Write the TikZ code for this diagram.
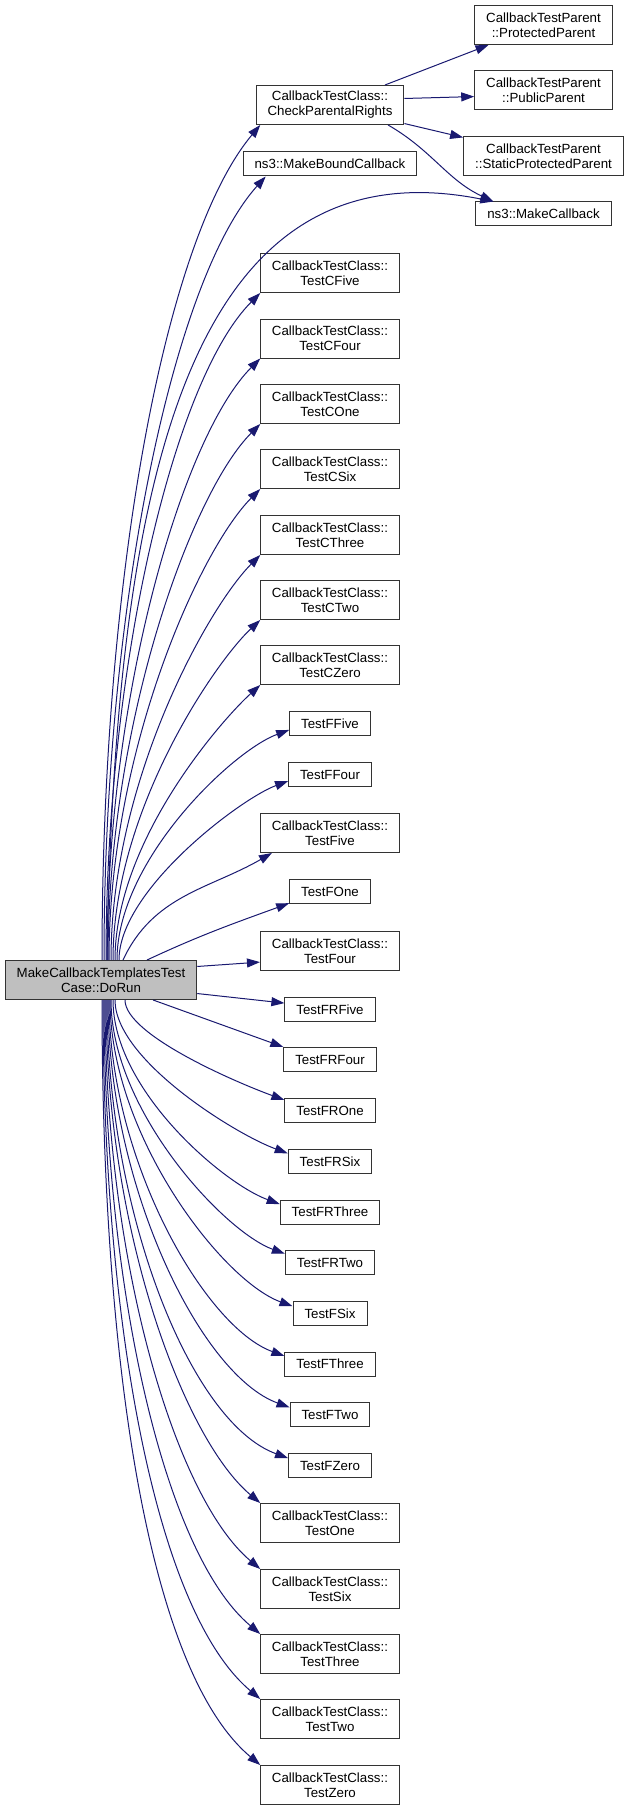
\documentclass[tikz,border=0pt]{standalone}
\usepackage{fontspec}
\setmainfont{Liberation Sans}
\usetikzlibrary{arrows.meta}
\definecolor{callblue}{RGB}{25,25,112}
\definecolor{maingray}{RGB}{191,191,191}

\begin{document}
\begin{tikzpicture}[x=1pt,y=1pt,
  fn/.style={draw=black!80,line width=1pt,fill=white,inner xsep=11.5pt,inner ysep=2pt,
    minimum height=24pt,align=center,font=\fontsize{13.3}{15}\selectfont},
  fntwo/.style={fn,minimum height=39pt},
  call/.style={callblue,line width=1pt,-{Triangle[length=13pt,width=9pt]}}]
\useasboundingbox (0,0) rectangle (629,-1811);
% caller
\node[fntwo,fill=maingray] (main) at (101,-980) {MakeCallbackTemplatesTest\\Case::DoRun};
% callees
\node[fntwo] (cpr) at (330,-105) {CallbackTestClass::\\CheckParentalRights};
\node[fn] (mbc) at (330,-164) {ns3::MakeBoundCallback};
\node[fntwo] (pp) at (543.5,-25) {CallbackTestParent\\::ProtectedParent};
\node[fntwo] (pubp) at (543.5,-90.5) {CallbackTestParent\\::PublicParent};
\node[fntwo] (spp) at (543.5,-156) {CallbackTestParent\\::StaticProtectedParent};
\node[fn] (mc) at (543.5,-214) {ns3::MakeCallback};
\foreach \n/\y/\s in {cfive/273/CFive,cfour/338.5/CFour,cone/404/COne,csix/469/CSix,cthree/535/CThree,
  ctwo/600/CTwo,czero/665/CZero,five/833/Five,four/951/Four,one/1523/One,six/1589/Six,
  three/1654/Three,two/1719/Two,zero/1785/Zero}
  \node[fntwo] (\n) at (330,-\y) {CallbackTestClass::\\Test\s};
\foreach \n/\y/\s in {ffive/723.5/FFive,ffour/774.5/FFour,fone/891.5/FOne,frfive/1009.5/FRFive,
  frfour/1059.5/FRFour,frone/1110.5/FROne,frsix/1161.5/FRSix,frthree/1212/FRThree,frtwo/1262.5/FRTwo,
  fsix/1313.5/FSix,fthree/1364/FThree,ftwo/1414.5/FTwo,fzero/1465.5/FZero}
  \node[fn] (\n) at (330,-\y) {Test\s};
% calls of CheckParentalRights
\draw[call] (cpr.20) -- (pp.200);
\draw[call] (cpr.5) -- (pubp.185);
\draw[call] (cpr.-14) -- (spp.167);
\draw[call] (cpr.-19) to[out=-30,in=155] (mc.166);
% calls of DoRun, upwards
\draw[call] ([xshift=6]main.north) .. controls +(8,460) and +(-312,62) .. (mc.166);
\foreach \n/\s/\l/\a/\m/\e in {cpr/1/380/230/150/196,mbc/3/350/228/140/191,cfive/5/300/225/120/196,
  cfour/6/270/225/108/196,cone/7/240/225/96/196,csix/8/210/225/85/196,cthree/10/180/225/73/196,
  ctwo/12/150/223/61/196,czero/14/120/222/50/196,ffive/16/100/200/60/189,ffour/18/70/200/50/189}
  \draw[call] ([xshift=\s]main.north) .. controls +(0,\l) and +(\a:\m) .. (\n.\e);
\draw[call] ([xshift=22]main.north) to[out=65,in=210] (five.199);
\draw[call] ([xshift=46]main.north) to[out=25,in=200] (fone.196);
\draw[call] (main.8) -- (four.189);
% calls of DoRun, downwards
\draw[call] (main.-8) -- (frfive.172);
\draw[call] (main.-21) -- (frfour.165);
\foreach \n/\s/\l/\a/\m/\e in {frone/24/35/160/50/167,frsix/14/60/160/55/169,frthree/12/90/160/60/171,
  frtwo/10/110/160/65/169,fsix/9/135/160/75/169,fthree/8/160/160/85/170,ftwo/7/185/160/95/170,
  fzero/6/210/160/105/170,one/5/230/140/100/164,six/4/260/140/112/164,three/3/290/140/125/164,
  two/2/320/140/138/164,zero/1/350/140/150/164}
  \draw[call] ([xshift=\s]main.south) .. controls +(0,-\l) and +(\a:\m) .. (\n.\e);
\end{tikzpicture}
\end{document}
